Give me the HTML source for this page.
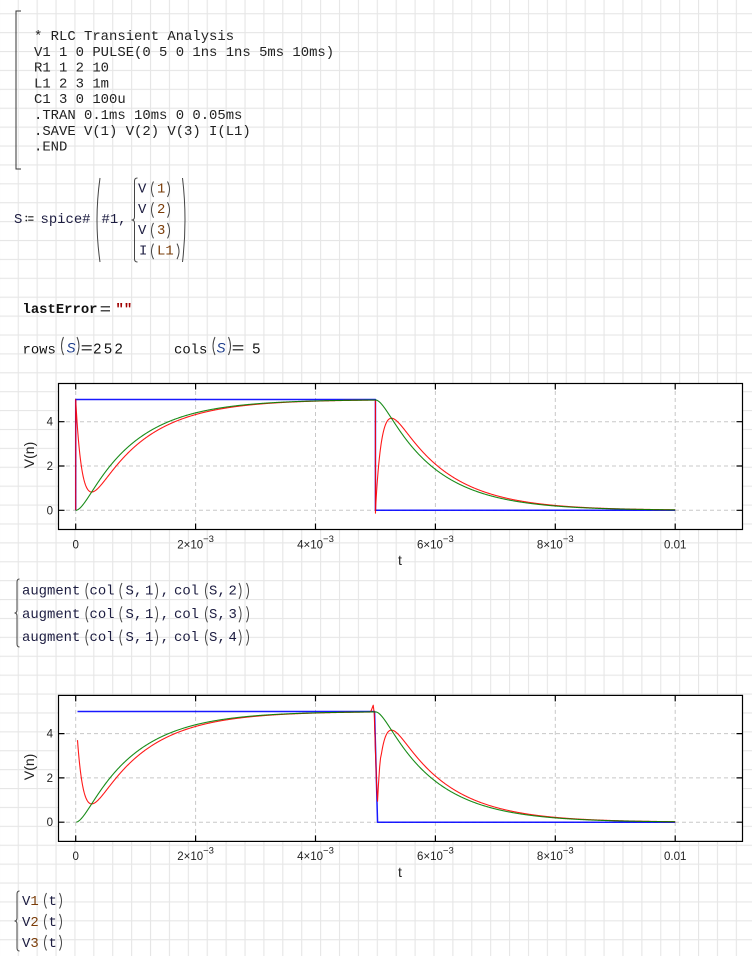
<!DOCTYPE html>
<html><head><meta charset="utf-8"><style>
html,body{margin:0;padding:0;background:#fff;width:752px;height:956px;overflow:hidden}
svg{display:block}
.m{font-family:"Liberation Mono",monospace;font-size:13.9px;fill:#1c1c40}
.c{font-family:"Liberation Mono",monospace;font-size:13.9px;fill:#222}
.d{fill:#7a3c08}
.s{font-family:"Liberation Sans",sans-serif}
.tk{font-family:"Liberation Sans",sans-serif;font-size:11.5px;fill:#222}
.p{fill:none;stroke:#444;stroke-width:1}
</style></head><body>
<svg id="root" width="752" height="956" viewBox="0 0 752 956" xmlns="http://www.w3.org/2000/svg">
<defs>
<pattern id="g" patternUnits="userSpaceOnUse" x="-1.2" y="13.2" width="18.8976" height="18.8976">
<rect x="0" y="0" width="1.1" height="18.8976" fill="#e6e6e6"/>
<rect x="0" y="0" width="18.8976" height="1.1" fill="#e6e6e6"/>
</pattern>
</defs>
<rect width="752" height="956" fill="#fff"/>
<rect width="752" height="956" fill="url(#g)"/>

<!-- code block -->
<path d="M21,11 L16,11 L16,169 L21,169" fill="none" stroke="#333" stroke-width="1"/>
<text class="c" x="34" y="40">* RLC Transient Analysis</text>
<text class="c" x="34" y="55.8">V1 1 0 PULSE(0 5 0 1ns 1ns 5ms 10ms)</text>
<text class="c" x="34" y="71.6">R1 1 2 10</text>
<text class="c" x="34" y="87.4">L1 2 3 1m</text>
<text class="c" x="34" y="103.2">C1 3 0 100u</text>
<text class="c" x="34" y="119">.TRAN 0.1ms 10ms 0 0.05ms</text>
<text class="c" x="34" y="134.8">.SAVE V(1) V(2) V(3) I(L1)</text>
<text class="c" x="34" y="150.6">.END</text>

<!-- spice definition -->
<text class="m" x="14" y="223">S</text>
<circle cx="26.3" cy="216.5" r="0.9" fill="#222"/>
<circle cx="26.3" cy="220.5" r="0.9" fill="#222"/>
<path d="M28.2,216.8 L33.5,216.8 M28.2,220.2 L33.5,220.2" stroke="#222" stroke-width="1.1"/>
<text class="m" x="40.5" y="223">spice#</text>
<path class="p" d="M100,178 Q94,220 100,262"/>
<text class="m" x="101.5" y="223">#1,</text>
<path class="p" d="M137.5,178 Q134.5,178 134.5,181 L134.5,217 Q134.5,220 131.5,220 Q134.5,220 134.5,223 L134.5,259 Q134.5,262 137.5,262"/>
<text class="m" x="138" y="192.5">V</text><text class="m d" x="157" y="192.5">1</text>
<text class="m" x="138" y="213.2">V</text><text class="m d" x="157" y="213.2">2</text>
<text class="m" x="138" y="233.9">V</text><text class="m d" x="157" y="233.9">3</text>
<text class="m" x="139" y="254.6">I</text><text class="m d" x="157" y="254.6">L1</text>
<path class="p" d="M153.5,181.5Q149.5,189.2 153.5,197 M167.5,181.5Q171.5,189.2 167.5,197
M153.5,202.2Q149.5,209.9 153.5,217.7 M167.5,202.2Q171.5,209.9 167.5,217.7
M153.5,222.9Q149.5,230.6 153.5,238.4 M167.5,222.9Q171.5,230.6 167.5,238.4
M153.5,243.6Q149.5,251.3 153.5,259.1 M177,243.6Q181,251.3 177,259.1"/>
<path class="p" d="M182.5,178 Q187.5,220 182.5,262"/>

<!-- lastError -->
<text class="m" x="22.5" y="313" font-weight="bold" style="fill:#111">lastError</text>
<path d="M100.7,306.8 L110,306.8 M100.7,310.8 L110,310.8" stroke="#111" stroke-width="1.2"/>
<text class="m" x="115.5" y="313" font-weight="bold" style="fill:#a00000">""</text>

<!-- rows / cols -->
<text class="m" x="22.5" y="353.3" style="fill:#111">rows</text>
<path class="p" d="M63.5,337Q59.5,346 63.5,355 M77,337Q81,346 77,355"/>
<text class="s" x="66.5" y="352.5" font-size="13.5" font-style="italic" fill="#1a3a8a">S</text>
<path d="M81.7,345.8 L91.7,345.8 M81.7,349.8 L91.7,349.8" stroke="#111" stroke-width="1.2"/>
<text class="s" x="93.3" y="353.3" font-size="14.5" letter-spacing="2.6" fill="#111">252</text>
<text class="m" x="174" y="353.3" style="fill:#111">cols</text>
<path class="p" d="M215,337Q211,346 215,355 M228.5,337Q232.5,346 228.5,355"/>
<text class="s" x="216.5" y="352.5" font-size="13.5" font-style="italic" fill="#1a3a8a">S</text>
<path d="M232.7,345.8 L243.3,345.8 M232.7,349.8 L243.3,349.8" stroke="#111" stroke-width="1.2"/>
<text class="s" x="252.3" y="353.3" font-size="14.5" fill="#111">5</text>

<!-- plot 1 static -->
<g id="p1">
<rect x="58.5" y="383.5" width="684" height="146" fill="#fff"/>
<g stroke="#c8c8c8" stroke-width="1" stroke-dasharray="4,3" fill="none">
<path d="M75.7,384V529 M195.6,384V529 M315.5,384V529 M435.4,384V529 M555.3,384V529 M675.2,384V529"/>
<path d="M59,510.3H742 M59,466H742 M59,421.7H742"/>
</g>
<rect x="58.5" y="383.5" width="684" height="146" fill="none" stroke="#000" stroke-width="1.2"/>
<g stroke="#000" stroke-width="1.2">
<path d="M75.7,383.5V389.5 M195.6,383.5V389.5 M315.5,383.5V389.5 M435.4,383.5V389.5 M555.3,383.5V389.5 M675.2,383.5V389.5"/>
<path d="M75.7,523.5V529.5 M195.6,523.5V529.5 M315.5,523.5V529.5 M435.4,523.5V529.5 M555.3,523.5V529.5 M675.2,523.5V529.5"/>
<path d="M58.5,510.3H64.5 M58.5,466H64.5 M58.5,421.7H64.5"/>
<path d="M736.5,510.3H742.5 M736.5,466H742.5 M736.5,421.7H742.5"/>
</g>
<text class="tk" x="53" y="514.3" text-anchor="end">0</text>
<text class="tk" x="53" y="470" text-anchor="end">2</text>
<text class="tk" x="53" y="425.7" text-anchor="end">4</text>
<text class="tk" x="75.7" y="548.3" text-anchor="middle">0</text>
<text class="tk" x="195.6" y="548.3" text-anchor="middle">2×10<tspan dy="-6.5" font-size="9.5">−3</tspan></text>
<text class="tk" x="315.5" y="548.3" text-anchor="middle">4×10<tspan dy="-6.5" font-size="9.5">−3</tspan></text>
<text class="tk" x="435.4" y="548.3" text-anchor="middle">6×10<tspan dy="-6.5" font-size="9.5">−3</tspan></text>
<text class="tk" x="555.3" y="548.3" text-anchor="middle">8×10<tspan dy="-6.5" font-size="9.5">−3</tspan></text>
<text class="tk" x="675.2" y="548.3" text-anchor="middle">0.01</text>
<text class="s" font-size="14" fill="#222" x="400" y="565" text-anchor="middle">t</text>
<text class="s" font-size="14" fill="#222" transform="translate(34,455) rotate(-90)" text-anchor="middle">V(n)</text>
</g>
<use href="#p1" x="0" y="311.9"/>

<!-- augment -->
<path class="p" d="M19.5,579 Q17,579 17,582 L17,610 Q17,613 14.5,613 Q17,613 17,616 L17,644 Q17,647 19.5,647"/>
<text class="m" x="22" y="594.5">augment</text><text class="m" x="89.5" y="594.5">col</text><text class="m" x="125.5" y="594.5">S</text><text class="m" x="134" y="594.5">,</text><text class="m" x="145" y="594.5">1</text><text class="m" x="160.8" y="594.5">,</text><text class="m" x="174" y="594.5">col</text><text class="m" x="209" y="594.5">S</text><text class="m" x="217.5" y="594.5">,</text><text class="m" x="228.5" y="594.5">2</text>
<text class="m" x="22" y="617.8">augment</text><text class="m" x="89.5" y="617.8">col</text><text class="m" x="125.5" y="617.8">S</text><text class="m" x="134" y="617.8">,</text><text class="m" x="145" y="617.8">1</text><text class="m" x="160.8" y="617.8">,</text><text class="m" x="174" y="617.8">col</text><text class="m" x="209" y="617.8">S</text><text class="m" x="217.5" y="617.8">,</text><text class="m" x="228.5" y="617.8">3</text>
<text class="m" x="22" y="641">augment</text><text class="m" x="89.5" y="641">col</text><text class="m" x="125.5" y="641">S</text><text class="m" x="134" y="641">,</text><text class="m" x="145" y="641">1</text><text class="m" x="160.8" y="641">,</text><text class="m" x="174" y="641">col</text><text class="m" x="209" y="641">S</text><text class="m" x="217.5" y="641">,</text><text class="m" x="228.5" y="641">4</text>
<path class="p" d="M88,583Q84,591 88,599 M122,583Q118,591 122,599 M155.5,583Q159.5,591 155.5,599 M207.5,583Q203.5,591 207.5,599 M239,583Q243,591 239,599 M246.5,583Q250.5,591 246.5,599
M88,606.3Q84,614.3 88,622.3 M122,606.3Q118,614.3 122,622.3 M155.5,606.3Q159.5,614.3 155.5,622.3 M207.5,606.3Q203.5,614.3 207.5,622.3 M239,606.3Q243,614.3 239,622.3 M246.5,606.3Q250.5,614.3 246.5,622.3
M88,629.5Q84,637.5 88,645.5 M122,629.5Q118,637.5 122,645.5 M155.5,629.5Q159.5,637.5 155.5,645.5 M207.5,629.5Q203.5,637.5 207.5,645.5 M239,629.5Q243,637.5 239,645.5 M246.5,629.5Q250.5,637.5 246.5,645.5"/>

<!-- V1(t) V2(t) V3(t) -->
<path class="p" d="M19.5,891 Q17,891 17,894 L17,918 Q17,921 14.5,921 Q17,921 17,924 L17,948 Q17,951 19.5,951"/>
<text class="m" x="22" y="905">V<tspan class="d">1</tspan></text><text class="m" x="48.5" y="905">t</text>
<text class="m" x="22" y="926">V<tspan class="d">2</tspan></text><text class="m" x="48.5" y="926">t</text>
<text class="m" x="22" y="947">V<tspan class="d">3</tspan></text><text class="m" x="48.5" y="947">t</text>
<path class="p" d="M46.5,893Q42.5,901 46.5,908.5 M59.5,893Q63.5,901 59.5,908.5
M46.5,914Q42.5,922 46.5,929.5 M59.5,914Q63.5,922 59.5,929.5
M46.5,935Q42.5,943 46.5,950.5 M59.5,935Q63.5,943 59.5,950.5"/>
</svg>
<script>
(function(){
var NS='http://www.w3.org/2000/svg';
var svg=document.getElementById('root');
var s1=-1127.0166,s2=-8872.9833,C=1e-4,R=10,T=0.005;
var K=5*C*s1*s2/(s1-s2);
function vcR(t){return 5*(1-(s2*Math.exp(s1*t)-s1*Math.exp(s2*t))/(s2-s1));}
function iR(t){return K*(Math.exp(s1*t)-Math.exp(s2*t));}
var Vc0=vcR(T),i0=iR(T);
var B=(i0/C-s1*Vc0)/(s2-s1),A=Vc0-B;
function vcF(u){return A*Math.exp(s1*u)+B*Math.exp(s2*u);}
function iF(u){return C*(s1*A*Math.exp(s1*u)+s2*B*Math.exp(s2*u));}
function X(t){return 75.7+t*59950;}
function mk(pts,y0,col,w){
  var d='';
  for(var k=0;k<pts.length;k++){d+=(k?'L':'M')+X(pts[k][0]).toFixed(2)+','+(y0-22.15*pts[k][1]).toFixed(2);}
  var p=document.createElementNS(NS,'path');
  p.setAttribute('d',d);p.setAttribute('fill','none');p.setAttribute('stroke',col);p.setAttribute('stroke-width',w);
  p.setAttribute('stroke-linejoin','round');p.setAttribute('stroke-opacity','0.9');
  svg.appendChild(p);
}
var N=800,k,t,u,r,g;
var y1=510.3;
mk([[0,0],[0,5],[T,5],[T,0],[0.01,0]],y1,'#0000ff',1.5);
r=[[0,0]];
for(k=0;k<=N;k++){t=k*T/N;r.push([t,5-R*iR(t)]);}
r.push([T,-0.13]);
for(k=1;k<=N;k++){u=k*T/N;r.push([T+u,-R*iF(u)]);}
mk(r,y1,'#ff0000',1.1);
g=[];
for(k=0;k<=N;k++){t=k*T/N;g.push([t,vcR(t)]);}
for(k=1;k<=N;k++){u=k*T/N;g.push([T+u,vcF(u)]);}
mk(g,y1,'#008000',1.1);
var y2=822.2;
mk([[3e-5,5],[4.985e-3,5],[5.035e-3,0],[0.01,0]],y2,'#0000ff',1.5);
r=[];
for(k=0;k<=N;k++){t=3e-5+k*(4.92e-3-3e-5)/N;r.push([t,5-R*iR(t)]);}
r.push([4.945e-3,5.15],[4.963e-3,5.28],[4.98e-3,4.9],[5.0e-3,3.2],[5.02e-3,1.6],[5.035e-3,0.95],[5.05e-3,1.7],[5.07e-3,2.5],[5.085e-3,2.9]);
for(k=0;k<=N;k++){u=1e-4+k*(T-1e-4)/N;r.push([T+u,-R*iF(u)]);}
mk(r,y2,'#ff0000',1.1);
g=[];
for(k=0;k<=N;k++){t=1e-5+k*(T-1e-5)/N;g.push([t,vcR(t)]);}
for(k=1;k<=N;k++){u=k*T/N;g.push([T+u,vcF(u)]);}
mk(g,y2,'#008000',1.1);
})();
</script>
</body></html>
